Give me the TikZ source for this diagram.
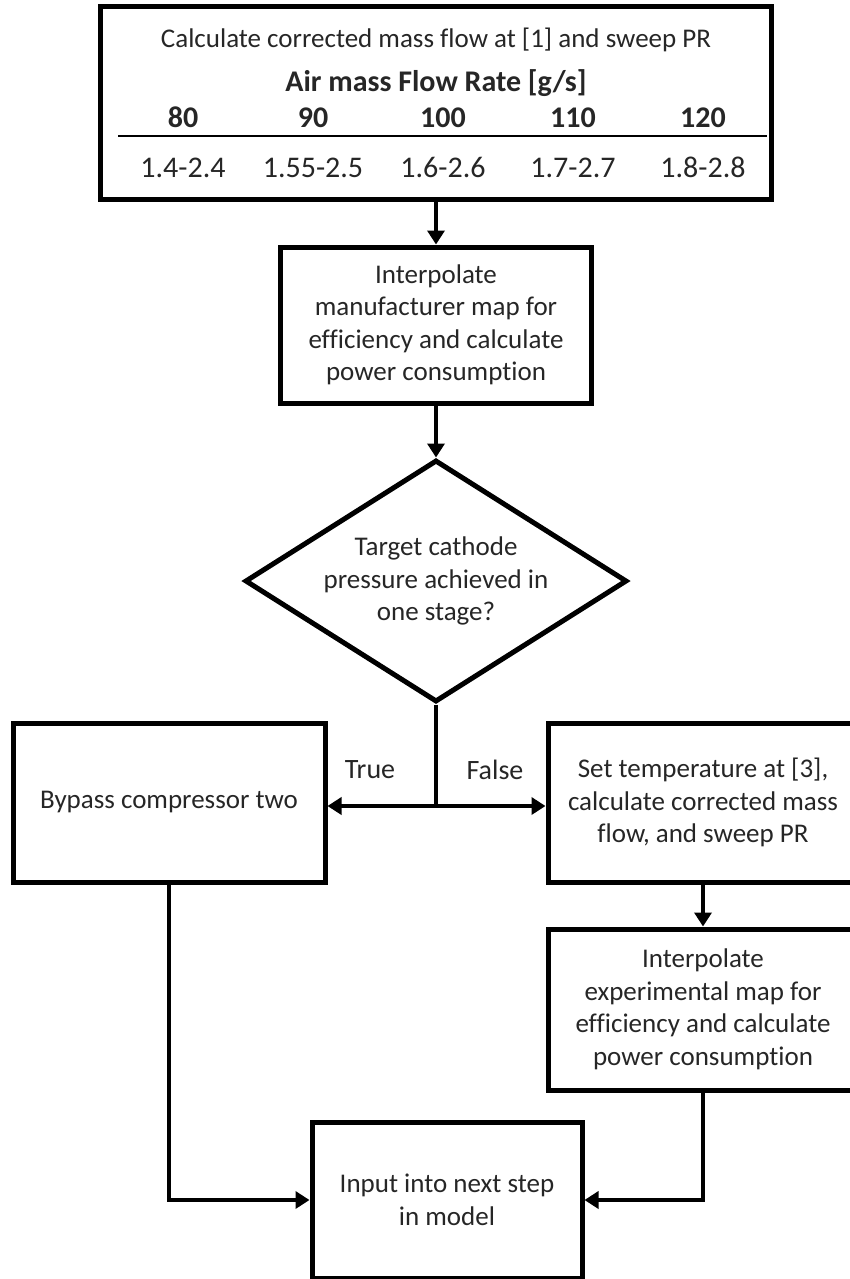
\documentclass[tikz,border=0pt]{standalone}
\usepackage{fontspec}
\setmainfont{Carlito}[Ligatures=NoCommon]
\usetikzlibrary{arrows.meta,shapes.geometric,positioning}

\definecolor{inktext}{RGB}{38,38,38}

\tikzset{
  stepbox/.style={draw, line width=5pt, align=center, inner sep=0pt, text=inktext,
    font=\fontsize{27}{32.5}\selectfont},
  decision/.style={stepbox, diamond, aspect=1.58},
  flow/.style={line width=4pt, -{Triangle[length=14pt,width=17pt]}},
  link/.style={line width=4pt},
  tabtitle/.style={anchor=base, text=inktext, font=\fontsize{27}{32}\selectfont},
  tabhead/.style={anchor=base, text=inktext, font=\fontsize{30}{36}\selectfont\bfseries},
  tabcell/.style={anchor=base, text=inktext, font=\fontsize{30}{36}\selectfont},
  branch/.style={text=inktext, font=\fontsize{28}{34}\selectfont},
}

\begin{document}
\begin{tikzpicture}[x=1pt, y=-1pt]
    \useasboundingbox (0,0) rectangle (850,1279);

    % Top box with the flow rate table
    \node[stepbox, minimum width=671pt, minimum height=192pt] (calc) at (436,103) {};
    \node[tabtitle] (calctitle) at (436,48) {Calculate corrected mass flow at [1] and sweep PR};
    \node[tabhead] (ratehead) at (436,92) {Air mass Flow Rate [g/s]};
    \foreach \colx/\flowrate/\prange in {183/80/1.4-2.4, 313/90/1.55-2.5, 443/100/1.6-2.6, 573/110/1.7-2.7, 703/120/1.8-2.8}
        {
        \node[tabhead] (rate\flowrate) at (\colx,128) {\flowrate};
        \node[tabcell] (range\flowrate) at (\colx,177) {\prange};
    }
    \draw[line width=2pt] (118,136) -- (767,136);

    % Process steps
    \node[stepbox, minimum width=311pt, minimum height=156pt] (interpman) at (436,325) {Interpolate\\manufacturer map for\\efficiency and calculate\\power consumption};
    \node[decision, minimum width=382pt, minimum height=242pt] (target) at (436,581) {Target cathode\\pressure achieved in\\one stage?};
    \node[stepbox, minimum width=312pt, minimum height=159pt] (bypass) at (169,802.5) {Bypass compressor two};
    \node[stepbox, minimum width=310pt, minimum height=159pt] (settemp) at (703,802.5) {Set temperature at [3],\\calculate corrected mass\\flow, and sweep PR};
    \node[stepbox, minimum width=310pt, minimum height=161pt] (interpexp) at (703,1009.5) {Interpolate\\experimental map for\\efficiency and calculate\\power consumption};
    \node[stepbox, minimum width=270pt, minimum height=156pt] (nextstep) at (447,1200) {Input into next step\\in model};

    % Connectors
    \coordinate (split) at (436,806);
    \draw[flow] (calc.south) -- (interpman.north);
    \draw[flow] (interpman.south) -- (target.north);
    \draw[link] (target.south) -- (split);
    \draw[flow] (split) -- (split -| bypass.east);
    \draw[flow] (split) -- (split -| settemp.west);
    \draw[flow] (settemp.south) -- (interpexp.north);
    \draw[flow] (bypass.south) |- (nextstep.west);
    \draw[flow] (interpexp.south) |- (nextstep.east);

    % Branch labels
    \node[branch] (truelbl) at (370,770) {True};
    \node[branch] (falselbl) at (495,770) {False};
\end{tikzpicture}
\end{document}
